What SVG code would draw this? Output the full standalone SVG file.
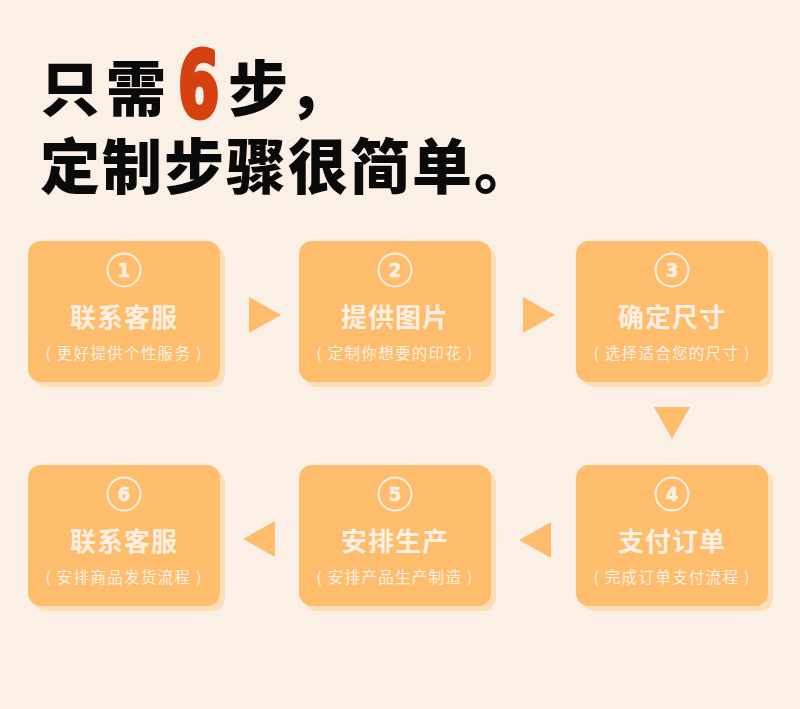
<svg xmlns="http://www.w3.org/2000/svg" width="800" height="709" viewBox="0 0 800 709">
<style>
.h{font-family:"Noto Sans CJK SC","Noto Sans",sans-serif;font-weight:900;font-size:60px;fill:#0a0a0a}
.box{fill:#FEBC6D}
.sh{fill:#FFDDB6}
.ring{fill:none;stroke:#FDF0E2;stroke-width:2}
.num{font-family:"DejaVu Sans Condensed","DejaVu Sans",sans-serif;font-weight:bold;font-size:20px;fill:#FDF0E2;stroke:#FDF0E2;stroke-width:0.6;text-anchor:middle}
.t{font-family:"Noto Sans CJK SC",sans-serif;font-weight:bold;font-size:26px;fill:#FDF0E2;text-anchor:middle;letter-spacing:1px}
.s{font-family:"Noto Sans CJK SC",sans-serif;font-size:15.5px;fill:#FDF0E2;text-anchor:middle;letter-spacing:1.3px}
.arr{fill:#FEBC6D}
</style>
<rect width="800" height="709" fill="#FBF0E5"/>
<g id="title">
<text class="h" x="40" y="111" letter-spacing="6">只需</text>
<text x="0" y="0" transform="translate(178,117) scale(0.66,1)" font-family="DejaVu Sans" font-weight="bold" font-size="90" fill="#D6410F" stroke="#D6410F" stroke-width="5" stroke-linejoin="round">6</text>
<text class="h" x="228" y="111">步，</text>
<text class="h" x="40" y="189" letter-spacing="2">定制步骤很简单。</text>
</g>
<g id="step1">
<rect class="sh" x="33" y="246" width="192" height="141" rx="13"/>
<rect class="box" x="28" y="241" width="192" height="141" rx="13"/>
<circle class="ring" cx="124" cy="270" r="16.5"/>
<text class="num" x="124" y="277">1</text>
<text class="t" x="124" y="327">联系客服</text>
<text class="s" x="124" y="359">( 更好提供个性服务 )</text>
</g>
<g id="step2">
<rect class="sh" x="304" y="246" width="192" height="141" rx="13"/>
<rect class="box" x="299" y="241" width="192" height="141" rx="13"/>
<circle class="ring" cx="395" cy="270" r="16.5"/>
<text class="num" x="395" y="277">2</text>
<text class="t" x="395" y="327">提供图片</text>
<text class="s" x="395" y="359">( 定制你想要的印花 )</text>
</g>
<g id="step3">
<rect class="sh" x="581" y="246" width="192" height="141" rx="13"/>
<rect class="box" x="576" y="241" width="192" height="141" rx="13"/>
<circle class="ring" cx="672" cy="270" r="16.5"/>
<text class="num" x="672" y="277">3</text>
<text class="t" x="672" y="327">确定尺寸</text>
<text class="s" x="672" y="359">( 选择适合您的尺寸 )</text>
</g>
<g id="step4">
<rect class="sh" x="581" y="470" width="192" height="141" rx="13"/>
<rect class="box" x="576" y="465" width="192" height="141" rx="13"/>
<circle class="ring" cx="672" cy="494" r="16.5"/>
<text class="num" x="672" y="501">4</text>
<text class="t" x="672" y="551">支付订单</text>
<text class="s" x="672" y="583">( 完成订单支付流程 )</text>
</g>
<g id="step5">
<rect class="sh" x="304" y="470" width="192" height="141" rx="13"/>
<rect class="box" x="299" y="465" width="192" height="141" rx="13"/>
<circle class="ring" cx="395" cy="494" r="16.5"/>
<text class="num" x="395" y="501">5</text>
<text class="t" x="395" y="551">安排生产</text>
<text class="s" x="395" y="583">( 安排产品生产制造 )</text>
</g>
<g id="step6">
<rect class="sh" x="33" y="470" width="192" height="141" rx="13"/>
<rect class="box" x="28" y="465" width="192" height="141" rx="13"/>
<circle class="ring" cx="124" cy="494" r="16.5"/>
<text class="num" x="124" y="501">6</text>
<text class="t" x="124" y="551">联系客服</text>
<text class="s" x="124" y="583">( 安排商品发货流程 )</text>
</g>
<g id="connectors">
<polygon class="arr" points="249,297 281,315 249,333"/>
<polygon class="arr" points="523,297 555,315 523,333"/>
<polygon class="arr" points="654,407 690,407 672,439"/>
<polygon class="arr" points="275,521 243,539 275,557"/>
<polygon class="arr" points="551,522 519,540 551,558"/>
</g>
</svg>
